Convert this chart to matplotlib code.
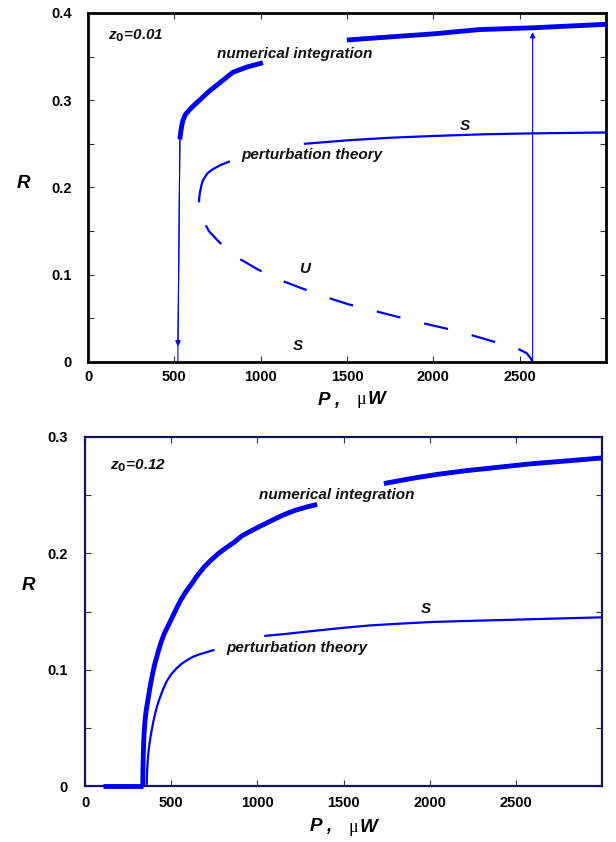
import numpy as np
import matplotlib
matplotlib.use("Agg")
import matplotlib.pyplot as plt

plt.rcParams['font.family'] = ['Liberation Sans', 'DejaVu Sans']

# ---- z0 = 0.01 (upper panel) ----
num1_p_a = [532, 536, 542, 550, 565, 602, 700, 839, 920, 1013]
num1_r_a = [0.255, 0.262, 0.270, 0.277, 0.284, 0.292, 0.310, 0.332, 0.338, 0.343]
num1_p_b = [1499, 1750, 1997, 2269, 2575, 3000]
num1_r_b = [0.369, 0.3726, 0.376, 0.381, 0.383, 0.387]

pert1_p_a = [643, 644, 648, 656, 665, 690, 723, 770, 822]
pert1_r_a = [0.183, 0.188, 0.194, 0.202, 0.208, 0.216, 0.221, 0.226, 0.230]
pert1_p_b = [1250, 1500, 1750, 1997, 2300, 2575, 3000]
pert1_r_b = [0.250, 0.254, 0.257, 0.259, 0.261, 0.262, 0.263]

unst1_p = [643, 645, 652, 660, 671, 700, 752, 800, 862, 984, 1111, 1244, 1383,
           1510, 1650, 1788, 1927, 2060, 2200, 2338, 2471, 2541, 2565, 2575]
unst1_r = [0.183, 0.176, 0.169, 0.164, 0.161, 0.150, 0.139, 0.130, 0.120, 0.106,
           0.094, 0.084, 0.074, 0.066, 0.059, 0.052, 0.045, 0.039, 0.032, 0.024,
           0.017, 0.010, 0.004, 0.0]

jump_down_p = [532, 520]
jump_down_r = [0.255, 0.0]
jump_up_p = [2575, 2575]
jump_up_r = [0.0, 0.378]

# ---- z0 = 0.12 (lower panel) ----
base2_p = [104, 335]
base2_r = [0.0, 0.0]
num2_p_a = [335, 336, 337, 339, 341, 344, 348, 355, 364, 376, 390, 405, 422, 440,
            460, 480, 503, 532, 560, 590, 620, 647, 690, 730, 775, 821, 870, 910,
            960, 1012, 1080, 1150, 1220, 1290, 1347]
num2_r_a = [0.0, 0.012, 0.020, 0.030, 0.040, 0.048, 0.056, 0.065, 0.073, 0.084,
            0.095, 0.105, 0.114, 0.123, 0.131, 0.137, 0.144, 0.153, 0.161, 0.168,
            0.174, 0.180, 0.188, 0.194, 0.200, 0.205, 0.210, 0.215, 0.219, 0.223,
            0.228, 0.233, 0.237, 0.240, 0.242]
num2_p_b = [1734, 1900, 2050, 2208, 2400, 2590, 2800, 3000]
num2_r_b = [0.260, 0.2645, 0.268, 0.271, 0.274, 0.277, 0.2795, 0.282]

pert2_p_a = [358, 359, 361, 364, 368, 373, 380, 387, 396, 405, 417, 430, 450,
             474, 500, 530, 560, 590, 625, 660, 705, 751]
pert2_r_a = [0.0, 0.008, 0.015, 0.022, 0.029, 0.035, 0.042, 0.048, 0.055, 0.061,
             0.068, 0.074, 0.082, 0.090, 0.096, 0.101, 0.105, 0.108, 0.111, 0.113,
             0.115, 0.117]
pert2_p_b = [1040, 1150, 1243, 1370, 1500, 1650, 1821, 2012, 2250, 2500, 2750, 3000]
pert2_r_b = [0.129, 0.1305, 0.132, 0.134, 0.136, 0.138, 0.1395, 0.141, 0.142,
             0.143, 0.144, 0.145]

xticks = [0, 500, 1000, 1500, 2000, 2500]
xticklabels = ['0', '500', '1000', '1500', '2000', '2500']

blue = '#0000f0'
lab = dict(fontsize=11, fontweight='bold', fontstyle='italic', color='#111111')

fig = plt.figure(figsize=(6.16, 8.42), dpi=100)
ax1 = fig.add_axes([0.1429, 0.5701, 0.8409, 0.4145])
ax2 = fig.add_axes([0.1380, 0.0665, 0.8393, 0.4145])


def style(ax, ymax, spine_col, ypad, xpad, lw):
    ax.set_xlim(0, 3000)
    ax.set_ylim(0, ymax)
    ax.set_xticks(xticks)
    ax.set_xticklabels(xticklabels)
    yt = np.arange(0, ymax + 0.001, 0.05)
    ax.set_yticks(yt)
    ax.set_yticklabels(['0' if i == 0 else ('%.1f' % v if i % 2 == 0 else '')
                        for i, v in enumerate(yt)])
    ax.tick_params(direction='in', length=4, width=0.8, top=True, right=True,
                   labelsize=10.5, colors='#333333', labelcolor='black')
    ax.tick_params(axis='y', pad=ypad)
    ax.tick_params(axis='x', pad=xpad)
    for t in ax.get_xticklabels() + ax.get_yticklabels():
        t.set_fontweight('bold')
    for s in ax.spines.values():
        s.set_color(spine_col)
        s.set_linewidth(lw)


# upper panel
ax = ax1
style(ax, 0.4, 'black', 11.5, 5.5, 2.0)
ax.plot(num1_p_a, num1_r_a, color=blue, lw=3.5, solid_capstyle='butt')
ax.plot(num1_p_b, num1_r_b, color=blue, lw=3.5, solid_capstyle='butt')
ax.plot(pert1_p_a, pert1_r_a, color=blue, lw=1.6, solid_capstyle='butt')
ax.plot(pert1_p_b, pert1_r_b, color=blue, lw=1.6, solid_capstyle='butt')
ax.plot(unst1_p, unst1_r, color=blue, lw=1.6, linestyle=(11, (11, 11)))

# jumps
ax.plot(jump_down_p, jump_down_r, color=blue, lw=0.8)
head_p = jump_down_p[0] + 0.93 * (jump_down_p[1] - jump_down_p[0])
head_r = jump_down_r[0] + 0.93 * (jump_down_r[1] - jump_down_r[0])
ax.annotate('', xy=(head_p, head_r), xytext=(jump_down_p[0], jump_down_r[0]),
            arrowprops=dict(arrowstyle='-|>', color=blue, lw=0.8,
                            mutation_scale=8, shrinkA=0, shrinkB=0))
ax.annotate('', xy=(jump_up_p[1], jump_up_r[1]), xytext=(jump_up_p[0], jump_up_r[0]),
            arrowprops=dict(arrowstyle='-|>', color=blue, lw=0.8,
                            mutation_scale=8, shrinkA=0, shrinkB=0))

ax.text(116, 0.374, r'z$_{\mathbf{0}}$=0.01', ha='left', va='center', **lab)
ax.text(1198, 0.353, 'numerical integration', ha='center', va='center', **lab)
ax.text(1296, 0.237, 'perturbation theory', ha='center', va='center', **lab)
ax.text(2182, 0.271, 'S', ha='center', va='center', **lab)
ax.text(1256, 0.107, 'U', ha='center', va='center', **lab)
ax.text(1215, 0.018, 'S', ha='center', va='center', **lab)

# lower panel
ax = ax2
style(ax, 0.3, '#14145a', 12.5, 7.5, 1.6)
ax.plot(base2_p, base2_r, color=blue, lw=3.5, solid_capstyle='butt',
        clip_on=False, zorder=5)
ax.plot(num2_p_a, num2_r_a, color=blue, lw=3.5, solid_capstyle='butt')
ax.plot(num2_p_b, num2_r_b, color=blue, lw=3.5, solid_capstyle='butt')
ax.plot(pert2_p_a, pert2_r_a, color=blue, lw=1.6, solid_capstyle='butt')
ax.plot(pert2_p_b, pert2_r_b, color=blue, lw=1.6, solid_capstyle='butt')

ax.text(145, 0.275, r'z$_{\mathbf{0}}$=0.12', ha='left', va='center', **lab)
ax.text(1462, 0.250, 'numerical integration', ha='center', va='center', **lab)
ax.text(1231, 0.119, 'perturbation theory', ha='center', va='center', **lab)
ax.text(1977, 0.152, 'S', ha='center', va='center', **lab)

# axis labels
big = dict(fontsize=13.5, fontweight='bold', fontstyle='italic', va='center')
fig.text(23 / 616, 1 - 183 / 842, 'R', ha='center', **big)
fig.text(28 / 616, 1 - 585 / 842, 'R', ha='center', **big)
for x0, yc in [(318, 400), (310, 827)]:
    fig.text(x0 / 616, 1 - yc / 842, 'P ,', ha='left', **big)
    fig.text((x0 + 39) / 616, 1 - yc / 842, 'μ', ha='left', va='center',
             fontsize=13, family='Liberation Serif')
    fig.text((x0 + 50) / 616, 1 - yc / 842, 'W', ha='left', **big)

fig.savefig('out.png', dpi=100)
